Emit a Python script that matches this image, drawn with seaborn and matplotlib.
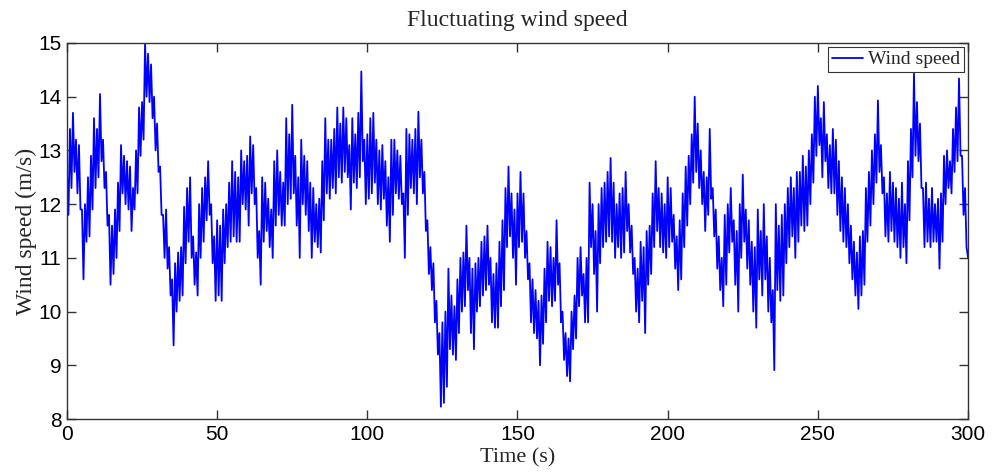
import numpy as np
import pandas as pd
import matplotlib
matplotlib.use("Agg")
import matplotlib.pyplot as plt
import seaborn as sns

# ---- data (samples every 0.5 s) ----
wind_speed = [
    12.6, 11.8, 13.4, 12.3, 13.7, 12.6, 13.2, 12.2, 13.1, 11.9, 11.9, 10.6, 12.0, 11.3, 12.5, 11.4, 12.9, 11.9, 13.6, 12.3,
    13.4, 12.5, 14.05, 12.8, 13.2, 12.3, 12.6, 11.6, 11.8, 10.5, 11.6, 10.7, 11.9, 11.0, 12.4, 11.5, 13.1, 12.2, 12.9, 12.0,
    12.8, 11.9, 12.7, 11.5, 12.3, 11.9, 13.0, 12.2, 13.8, 12.9, 13.9, 13.2, 15.0, 14.0, 14.8, 13.9, 14.6, 13.6, 14.0, 13.0,
    13.5, 12.6, 12.7, 11.8, 11.8, 11.0, 11.9, 10.8, 11.2, 10.3, 10.6, 9.37, 10.9, 10.0, 11.1, 10.2, 11.2, 10.3, 11.95, 10.9,
    12.3, 11.3, 12.5, 11.0, 11.4, 10.5, 11.1, 10.3, 12.0, 11.0, 12.3, 11.3, 12.5, 11.7, 12.8, 11.8, 12.0, 10.9, 11.4, 10.2,
    11.7, 10.3, 11.6, 10.2, 11.9, 10.9, 12.0, 11.2, 12.4, 11.3, 12.8, 11.4, 12.6, 11.3, 12.5, 11.3, 13.0, 12.0, 12.8, 11.9,
    12.9, 11.6, 13.26, 12.2, 13.1, 12.0, 12.3, 11.0, 11.5, 10.5, 12.5, 11.3, 12.4, 11.5, 12.1, 11.2, 11.9, 11.0, 12.8, 11.6,
    13.0, 11.8, 12.6, 11.6, 12.4, 11.6, 13.6, 12.0, 13.3, 12.1, 13.85, 12.2, 12.9, 11.6, 12.5, 11.0, 13.2, 12.0, 12.9, 11.8,
    12.8, 11.5, 12.4, 11.0, 12.3, 11.3, 12.0, 11.2, 12.1, 11.1, 12.8, 11.7, 13.6, 12.2, 13.2, 12.1, 13.2, 12.3, 13.4, 12.2,
    13.8, 12.5, 13.5, 12.4, 13.8, 12.6, 13.6, 12.5, 13.1, 11.9, 13.6, 12.4, 13.3, 12.3, 13.7, 12.5, 14.47, 12.8, 13.2, 12.0,
    13.3, 12.1, 13.6, 12.2, 13.7, 12.4, 13.2, 12.0, 13.0, 11.9, 13.1, 12.1, 12.8, 11.6, 12.5, 11.3, 13.2, 11.8, 13.2, 12.2,
    13.0, 12.1, 12.9, 12.0, 12.2, 11.0, 13.4, 11.8, 13.3, 12.3, 13.2, 12.2, 13.4, 12.0, 13.72, 12.5, 13.2, 12.2, 12.6, 11.5,
    11.7, 10.7, 11.2, 10.4, 10.9, 9.8, 10.2, 9.2, 9.6, 8.23, 9.8, 8.3, 10.0, 8.6, 10.8, 9.3, 10.3, 9.2, 10.1, 9.1,
    10.6, 9.6, 11.0, 10.0, 11.1, 10.1, 11.6, 10.4, 11.0, 9.6, 10.8, 9.3, 10.9, 10.0, 11.0, 10.1, 11.3, 10.3, 11.4, 10.4,
    11.6, 10.5, 11.0, 9.8, 10.7, 9.7, 10.9, 9.7, 11.3, 10.1, 11.7, 10.4, 12.3, 11.2, 12.7, 11.4, 12.2, 11.0, 11.9, 10.5,
    12.2, 11.2, 12.6, 11.3, 12.2, 11.0, 11.5, 10.6, 10.9, 9.8, 10.6, 9.6, 10.4, 9.5, 10.2, 9.0, 10.3, 9.4, 10.8, 9.8,
    11.3, 10.2, 11.2, 10.1, 11.0, 10.2, 11.7, 10.5, 10.9, 9.8, 10.0, 9.1, 9.6, 8.8, 9.5, 8.7, 10.0, 9.3, 10.3, 9.5,
    11.0, 10.1, 11.2, 10.3, 10.7, 9.8, 11.0, 9.8, 12.4, 11.2, 12.0, 10.7, 11.5, 10.0, 12.0, 10.9, 12.3, 11.2, 12.4, 11.3,
    12.6, 11.4, 12.86, 11.3, 12.4, 11.0, 12.0, 11.2, 12.2, 11.0, 12.3, 11.1, 12.6, 11.5, 12.0, 11.1, 11.6, 10.7, 11.0, 10.0,
    10.8, 9.8, 11.3, 10.2, 11.2, 9.6, 11.5, 10.5, 11.6, 10.7, 12.2, 11.2, 12.8, 11.5, 12.3, 11.2, 12.2, 11.1, 12.0, 11.0,
    12.5, 11.2, 12.3, 11.3, 11.8, 10.8, 11.4, 10.4, 11.7, 10.6, 12.2, 11.2, 12.7, 11.6, 12.9, 12.0, 13.3, 12.4, 14.0, 12.6,
    13.5, 12.3, 13.0, 12.0, 12.6, 11.5, 12.5, 11.8, 13.4, 12.1, 12.3, 11.4, 11.9, 10.8, 11.4, 10.4, 11.0, 10.1, 11.8, 10.5,
    12.0, 11.1, 12.3, 11.3, 11.7, 10.5, 11.5, 10.0, 12.0, 11.0, 12.55, 11.3, 11.9, 10.8, 11.7, 10.5, 11.3, 10.0, 11.2, 9.7,
    11.9, 10.6, 11.5, 10.3, 12.0, 10.6, 11.4, 10.0, 11.0, 9.8, 10.4, 8.91, 12.0, 10.4, 11.6, 10.2, 11.8, 10.3, 12.0, 10.9,
    12.3, 11.2, 12.5, 11.4, 12.3, 11.0, 12.6, 11.3, 12.6, 11.6, 12.9, 11.5, 12.7, 11.6, 13.0, 12.0, 13.3, 12.4, 14.0, 12.9,
    14.2, 13.1, 13.6, 12.5, 13.9, 12.8, 13.3, 12.3, 13.1, 12.2, 13.4, 12.2, 13.2, 11.8, 12.8, 11.5, 12.5, 11.3, 12.3, 11.2,
    12.0, 10.9, 11.6, 10.6, 11.3, 10.3, 11.1, 10.05, 11.4, 10.3, 11.5, 10.5, 12.3, 11.3, 12.6, 11.6, 13.0, 12.0, 13.3, 12.4,
    13.93, 12.6, 13.1, 12.2, 12.5, 11.4, 12.2, 11.3, 12.6, 11.5, 12.4, 11.3, 12.3, 11.2, 12.1, 11.0, 12.4, 11.2, 12.0, 10.9,
    12.8, 11.7, 13.4, 12.5, 14.43, 12.9, 13.9, 12.8, 13.5, 12.3, 12.3, 11.2, 12.4, 11.3, 12.1, 11.2, 12.3, 11.3, 12.0, 11.3,
    12.1, 10.8, 12.2, 11.3, 12.9, 12.0, 13.0, 12.3, 12.8, 12.2, 13.4, 12.6, 13.8, 12.8, 14.34, 12.9, 12.9, 11.8, 12.3, 11.2,
    11.0,
]
time_s = np.linspace(0, 300, len(wind_speed))

x_ticks = [0, 50, 100, 150, 200, 250, 300]
y_ticks = [8, 9, 10, 11, 12, 13, 14, 15]

title_text = "Fluctuating wind speed"
x_label = "Time (s)"
y_label = "Wind speed (m/s)"
series_name = "Wind speed"

# ---- style ----
sns.set_style("ticks")
plt.rcParams['font.family'] = ['Liberation Sans', 'DejaVu Sans']
serif = ['Liberation Serif', 'DejaVu Serif']

fig = plt.figure(figsize=(9.95, 4.76), dpi=100)
ax = fig.add_axes([0.0673, 0.1197, 0.9056, 0.79])

df = pd.DataFrame({"time": time_s, "speed": wind_speed})
sns.lineplot(data=df, x="time", y="speed", ax=ax, color="#0000ff",
             linewidth=1.3, estimator=None, sort=False, label=series_name)

ax.set_xlim(0, 300)
ax.set_ylim(8, 15)
ax.set_xticks(x_ticks)
ax.set_yticks(y_ticks)
ax.tick_params(direction='in', length=6.5, width=1, top=True, right=True,
               labelsize=15, color='#333333', labelcolor='black', pad=4)
for s in ax.spines.values():
    s.set_color('#333333')
    s.set_linewidth(1)

ax.set_title(title_text, fontfamily=serif, fontsize=17, pad=12)
ax.set_xlabel(x_label, fontfamily=serif, fontsize=16, labelpad=3)
ax.set_ylabel(y_label, fontfamily=serif, fontsize=17, labelpad=1)

leg = ax.legend(loc='upper right', prop={'family': serif, 'size': 14},
                frameon=True, fancybox=False, edgecolor='black',
                borderaxespad=0.2, borderpad=0.2, handlelength=1.6,
                handletextpad=0.25)
leg.get_frame().set_linewidth(0.8)

fig.savefig("out.png", dpi=100)
